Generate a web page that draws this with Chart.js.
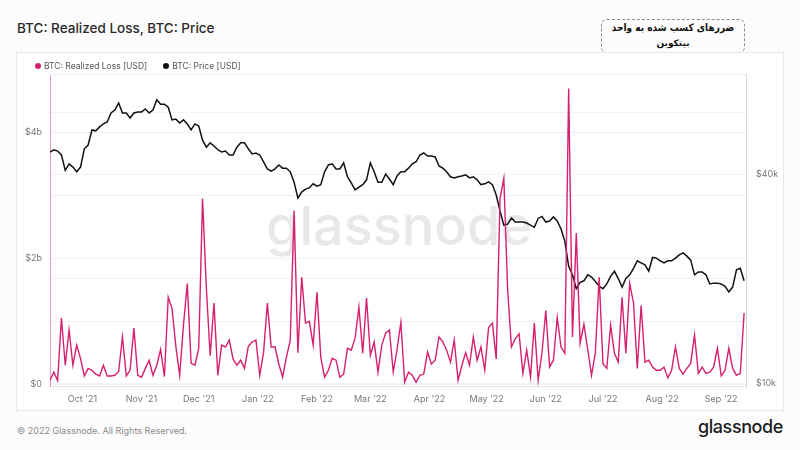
<!DOCTYPE html>
<html>
<head>
<meta charset="utf-8">
<script src="https://cdn.jsdelivr.net/npm/chart.js@4.4.1/dist/chart.umd.min.js"></script>
<style>
  body { margin: 0; width: 800px; height: 450px; background: #fcfcfc; position: relative; overflow: hidden; font-family: Inter, "Noto Sans", sans-serif; }
  #title { position: absolute; left: 17px; top: 20px; font-size: 13.5px; font-weight: 500; color: #2a2a2a; }
  #note { position: absolute; left: 601px; top: 19px; width: 144px; height: 34px; box-sizing: border-box; border: 1px dashed #8c8c8c; border-radius: 6px; direction: rtl; text-align: center; font-family: "DejaVu Sans", sans-serif; font-weight: bold; font-size: 9px; line-height: 15px; color: #111; padding-top: 1px; white-space: nowrap; }
  #note div:first-child { transform: scaleY(1.15); }
  #panel { position: absolute; left: 17px; top: 53px; width: 766px; height: 357px; background: #fff; outline: 1px solid #e8e8e8; }
  #legend { position: absolute; left: 18px; top: 8px; font-size: 8.5px; color: #555; display: flex; gap: 16px; }
  #legend span i { display: inline-block; width: 6px; height: 6px; border-radius: 50%; margin-right: 3px; vertical-align: 0px; }
  #chart { position: absolute; left: 0; top: 0; }
  #footer { position: absolute; left: 17px; top: 425px; font-size: 9px; color: #8a8a8a; }
  #logo { position: absolute; right: 17px; top: 416px; font-size: 18px; font-weight: 500; color: #1c1c1c; letter-spacing: -0.4px; }
</style>
</head>
<body>
<div id="title">BTC: Realized Loss, BTC: Price</div>
<div id="note"><div>ضررهای کسب شده به واحد</div><div>بیتکوین</div></div>
<div id="panel">
  <canvas id="chart" width="766" height="357"></canvas>
  <div id="legend">
    <span><i style="background:#d4206e"></i>BTC: Realized Loss [USD]</span>
    <span><i style="background:#111"></i>BTC: Price [USD]</span>
  </div>
</div>
<div id="footer">© 2022 Glassnode. All Rights Reserved.</div>
<div id="logo">glassnode</div>
<script>
// one value every 2 days, starting from this date
const startDate = '2021-09-14';
const stepDays = 2;

// realized loss, billions USD
const realizedLoss = [
  0.06, 0.19, 0.06, 1.05, 0.30, 0.86, 0.30, 0.62, 0.41, 0.13,
  0.25, 0.22, 0.16, 0.13, 0.30, 0.13, 0.13, 0.14, 0.20, 0.75,
  0.13, 0.22, 0.89, 0.14, 0.11, 0.25, 0.38, 0.14, 0.30, 0.55,
  0.12, 1.38, 1.20, 0.60, 0.14, 0.94, 1.60, 0.33, 0.30, 0.57,
  2.95, 1.52, 0.45, 1.29, 0.14, 0.62, 0.59, 0.70, 0.40, 0.30,
  0.38, 0.25, 0.60, 0.67, 0.70, 0.14, 0.50, 1.29, 0.59, 0.59,
  0.32, 0.11, 0.43, 0.70, 2.76, 0.50, 1.70, 0.97, 1.00, 0.62,
  1.46, 0.43, 0.11, 0.22, 0.41, 0.38, 0.11, 0.16, 0.57, 0.54,
  0.73, 1.22, 0.49, 1.37, 0.46, 0.67, 0.19, 0.62, 0.81, 0.86,
  0.19, 0.55, 0.98, 0.03, 0.19, 0.14, 0.03, 0.14, 0.16, 0.51,
  0.32, 0.38, 0.75, 0.67, 0.54, 0.35, 0.70, 0.06, 0.30, 0.50,
  0.30, 0.75, 0.38, 0.59, 0.22, 0.90, 0.97, 0.40, 2.95, 3.27,
  1.50, 0.59, 0.72, 0.80, 0.17, 0.54, 0.11, 0.97, 0.06, 0.49,
  1.17, 0.27, 0.38, 1.06, 0.59, 0.49, 4.70, 0.75, 2.40, 0.65,
  0.95, 0.55, 0.14, 0.50, 1.70, 0.32, 0.25, 0.94, 0.49, 0.35,
  1.38, 0.49, 1.60, 1.29, 0.25, 1.25, 0.35, 0.38, 0.27, 0.22,
  0.22, 0.27, 0.10, 0.22, 0.59, 0.25, 0.16, 0.25, 0.33, 0.78,
  0.17, 0.27, 0.17, 0.19, 0.27, 0.57, 0.13, 0.22, 0.57, 0.25,
  0.14, 0.17, 1.13
];

// BTC price, thousands USD
const btcPrice = [
  46.3, 47.0, 46.6, 45.4, 41.0, 42.8, 41.9, 40.6, 41.9, 47.3,
  48.5, 53.6, 53.3, 54.7, 55.8, 56.5, 60.0, 61.2, 64.1, 60.0,
  60.0, 58.0, 60.0, 60.4, 60.4, 61.6, 60.0, 61.2, 65.5, 63.6,
  63.6, 62.3, 57.3, 57.6, 56.1, 57.3, 55.8, 53.6, 55.8, 55.0,
  50.1, 47.8, 49.2, 48.2, 47.0, 46.3, 46.6, 45.4, 45.4, 47.8,
  49.2, 49.2, 47.3, 45.7, 46.0, 45.4, 43.4, 41.4, 40.8, 41.4,
  42.5, 41.6, 41.6, 40.6, 37.9, 34.1, 35.5, 36.2, 36.5, 37.5,
  36.9, 37.3, 40.6, 42.5, 42.8, 41.4, 41.4, 43.1, 39.3, 37.7,
  36.0, 36.7, 37.3, 38.5, 43.1, 40.6, 37.9, 37.9, 40.0, 38.7,
  37.3, 39.5, 40.6, 40.6, 41.6, 42.8, 43.4, 45.4, 46.0, 45.1,
  45.1, 44.8, 42.2, 41.6, 40.6, 39.3, 39.0, 39.3, 39.5, 39.8,
  39.0, 39.3, 38.5, 37.3, 37.5, 38.0, 37.3, 34.8, 31.3, 28.5,
  28.7, 29.9, 29.1, 29.1, 29.1, 28.9, 28.5, 28.1, 29.8, 30.2,
  29.1, 29.3, 30.1, 29.3, 27.8, 25.6, 21.7, 20.5, 18.7, 19.5,
  19.7, 20.5, 20.2, 19.6, 19.0, 18.7, 19.3, 20.3, 21.0, 20.0,
  18.9, 20.0, 20.5, 21.4, 22.5, 22.2, 21.9, 21.0, 23.0, 22.9,
  22.5, 22.2, 22.5, 22.5, 22.9, 23.4, 23.7, 23.2, 22.6, 20.5,
  20.9, 20.9, 20.5, 19.3, 19.4, 19.4, 19.3, 19.0, 18.3, 18.9,
  21.2, 21.4, 19.7
];

// x axis ticks
const monthStarts = ['2021-10-01', '2021-11-01', '2021-12-01', '2022-01-01', '2022-02-01', '2022-03-01',
                     '2022-04-01', '2022-05-01', '2022-06-01', '2022-07-01', '2022-08-01', '2022-09-01'];
const monthLabels = ["Oct '21", "Nov '21", "Dec '21", "Jan '22", "Feb '22", "Mar '22",
                     "Apr '22", "May '22", "Jun '22", "Jul '22", "Aug '22", "Sep '22"];

// y axis ticks
const lossTicks = [0, 1, 2, 3, 4];          // billions
const lossLabels = ['$0', '', '$2b', '', '$4b'];
const priceTicks = [10000, 20000, 40000, 60000];
const priceLabels = ['$10k', '', '$40k', ''];

const pink = '#d4206e';
const tickFont = { family: 'Inter', size: 9 };
const tickColor = '#777';

const dayOf = (s) => (Date.parse(s) - Date.parse(startDate)) / 86400000;
const monthDays = monthStarts.map(dayOf);
const lossPoints = realizedLoss.map((v, i) => ({ x: i * stepDays, y: v * 1e9 }));
const pricePoints = btcPrice.map((v, i) => ({ x: i * stepDays, y: v * 1000 }));

// big grey "glassnode" behind the lines, plus a faint top edge
const watermark = {
  id: 'watermark',
  beforeDatasetsDraw(chart) {
    const { ctx, chartArea: a } = chart;
    ctx.save();
    ctx.strokeStyle = '#eeeeee';
    ctx.lineWidth = 1;
    ctx.beginPath();
    ctx.moveTo(a.left, a.top + 0.5);
    ctx.lineTo(a.right, a.top + 0.5);
    ctx.stroke();
    ctx.font = '500 54px Inter';
    ctx.fillStyle = '#e8e8e8';
    ctx.textAlign = 'center';
    ctx.textBaseline = 'middle';
    ctx.fillText('glassnode', (a.left + a.right) / 2 + 1, 176);
    ctx.restore();
  }
};

new Chart(document.getElementById('chart'), {
  type: 'line',
  data: {
    datasets: [
      { label: 'BTC: Realized Loss [USD]', data: lossPoints, yAxisID: 'yLoss', borderColor: pink,
        borderWidth: 1.4, pointRadius: 0, tension: 0, order: 0 },
      { label: 'BTC: Price [USD]', data: pricePoints, yAxisID: 'yPrice', borderColor: '#111',
        borderWidth: 1.5, pointRadius: 0, tension: 0, order: 1 }
    ]
  },
  options: {
    responsive: false,
    animation: false,
    layout: { padding: { top: 21 } },
    plugins: { legend: { display: false }, tooltip: { enabled: false } },
    scales: {
      x: {
        type: 'linear', min: 0, max: 365,
        afterBuildTicks: (a) => { a.ticks = monthDays.map(v => ({ value: v })); },
        afterFit: (a) => { a.height = 24; },
        grid: { display: false, drawTicks: false },
        border: { color: '#e4e4e4' },
        ticks: { autoSkip: false, maxRotation: 0, padding: 8, color: tickColor, font: tickFont,
                 callback: (v, i) => monthLabels[i] }
      },
      yLoss: {
        position: 'left', min: -0.03e9, max: 4.93e9,
        afterBuildTicks: (a) => { a.ticks = lossTicks.map(v => ({ value: v * 1e9 })); },
        afterFit: (a) => { a.width = 33; },
        grid: { color: '#f1f1f1', drawTicks: false },
        border: { color: 'rgba(212,32,110,0.45)' },
        ticks: { padding: 8, color: tickColor, font: tickFont, callback: (v, i) => lossLabels[i] }
      },
      yPrice: {
        type: 'logarithmic', position: 'right', min: 9803, max: 77700,
        afterBuildTicks: (a) => { a.ticks = priceTicks.map(v => ({ value: v })); },
        afterFit: (a) => { a.width = 37; },
        grid: { color: '#f4f4f4', drawTicks: false },
        border: { color: '#d6d6d6' },
        ticks: { padding: 10, color: tickColor, font: tickFont, callback: (v, i) => priceLabels[i] }
      }
    }
  },
  plugins: [watermark]
});
</script>
</body>
</html>
